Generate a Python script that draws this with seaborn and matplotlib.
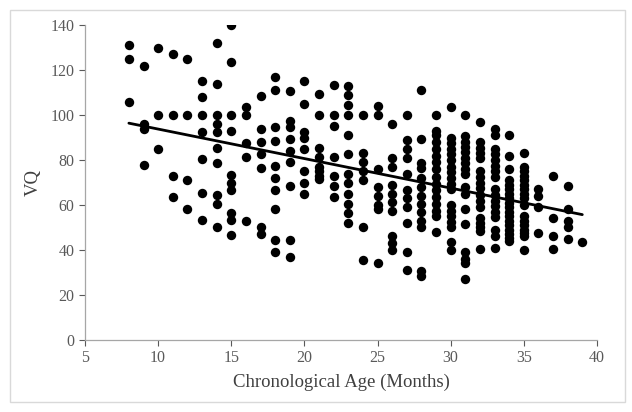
import numpy as np
import pandas as pd
import seaborn as sns
import matplotlib.pyplot as plt
from matplotlib.patches import Rectangle

# data, one list of VQ values per age (months)

vq_08 = [131, 125, 106]
vq_09 = [122, 94, 96, 78]
vq_10 = [130, 100, 85]
vq_11 = [127, 100, 73, 63.5]
vq_12 = [125, 100, 71, 58]
vq_13 = [115, 108, 100, 92.5, 80.5, 65.5, 53.5]
vq_14 = [132, 114, 100, 96, 92.5, 85.5, 78.5, 64.5, 60.5, 50]
vq_15 = [140, 123.5, 100, 93, 73.5, 70, 66.5, 56.5, 53.5, 46.5]
vq_16 = [103.5, 100, 87.5, 81.5, 53]
vq_17 = [108.5, 94, 88, 82.5, 76.5, 50, 47]
vq_18 = [117, 111, 94.5, 88.5, 77.5, 72, 66.5, 58, 44.5, 39]
vq_19 = [110.5, 97.5, 94.5, 89.5, 84, 79, 68.5, 44.5, 37]
vq_20 = [115, 105, 92.5, 90, 85, 75, 70, 65]
vq_21 = [109.5, 100, 85.5, 81.5, 77, 75, 73, 71.5]
vq_22 = [113.5, 100, 95, 81.5, 73, 68.5, 63.5]
vq_23 = [113, 109, 104.5, 100, 91, 82.5, 74, 70, 65, 60.5, 56.5, 52]
vq_24 = [100, 83, 79, 75, 71, 50, 35.5]
vq_25 = [104, 100, 76, 68, 64, 60, 58, 34]
vq_26 = [96, 81, 77, 69, 65, 61.5, 57.5, 46, 43, 40]
vq_27 = [100, 89, 85, 81, 74, 66.5, 63, 59, 52, 39, 31]
vq_28 = [111, 89.5, 78.5, 76.5, 72, 68, 64, 60.5, 57, 53, 50, 30.5, 28.5]
vq_29 = [100, 93, 91, 88, 85, 82, 79, 76, 72.5, 69.5, 66.5, 63.5, 60.5, 57.5, 55, 48]
vq_30 = [103.5, 90, 87.5, 85, 82.5, 80, 77, 74.5, 72, 69.5, 67, 60, 57.5, 55, 52.5, 50, 43.5, 40]
vq_31 = [100, 90.5, 88, 86, 83.5, 81, 78.5, 76, 74, 68, 65, 58, 51.5, 39, 36, 34, 27]
vq_32 = [97, 88, 85.5, 83, 81, 75, 72.5, 70, 67.5, 64.5, 62, 59, 54, 52, 50, 48.5, 40.5]
vq_33 = [94, 91, 85, 82.5, 80, 77.5, 75, 72.5, 67, 64.5, 62, 59.5, 57, 54.5, 49, 46, 41]
vq_34 = [91, 82, 76, 71, 69, 67, 65, 63, 61, 59, 57, 55, 53, 51, 49, 47, 45.5, 44]
vq_35 = [83, 77, 75, 73, 71, 69, 67, 65, 63, 60, 55, 53, 51, 49, 47.5, 46, 40]
vq_36 = [67, 64, 59, 47.5]
vq_37 = [73, 54, 46, 40.5]
vq_38 = [68.5, 58, 53, 50, 45]
vq_39 = [43.5]

columns = [vq_08, vq_09, vq_10, vq_11, vq_12, vq_13, vq_14, vq_15, vq_16,
           vq_17, vq_18, vq_19, vq_20, vq_21, vq_22, vq_23, vq_24, vq_25,
           vq_26, vq_27, vq_28, vq_29, vq_30, vq_31, vq_32, vq_33, vq_34,
           vq_35, vq_36, vq_37, vq_38, vq_39]
ages = list(range(8, 40))

rows = []
for a, col in zip(ages, columns):
    for v in col:
        rows.append({"age": a, "vq": v})
df = pd.DataFrame(rows)

# style

sns.set_style("white")
plt.rcParams["font.family"] = ["Liberation Serif", "DejaVu Serif"]

fig = plt.figure(figsize=(6.32, 4.12), dpi=100)
ax = fig.add_axes([0.1345, 0.175, 0.810, 0.764])

sns.scatterplot(data=df, x="age", y="vq", color="black", s=46,
                edgecolor="black", linewidth=0, ax=ax)
sns.regplot(data=df, x="age", y="vq", scatter=False, ci=None,
            color="black", line_kws={"linewidth": 2}, ax=ax)

ax.set_xlim(5, 40)
ax.set_ylim(0, 140)
ax.set_xticks(range(5, 41, 5))
ax.set_yticks(range(0, 141, 20))

ax.set_xlabel("Chronological Age (Months)", fontsize=13.5, color="#404040", labelpad=5)
ax.set_ylabel("VQ", fontsize=13.5, color="#404040", labelpad=6)
ax.tick_params(axis="both", labelsize=11.5, colors="#595959", length=4,
               direction="out", bottom=True, left=True)

sns.despine(ax=ax)
for side in ["left", "bottom"]:
    ax.spines[side].set_color("#a6a6a6")
    ax.spines[side].set_linewidth(0.9)

# light frame round the whole chart
fig.patches.append(Rectangle((10 / 632, 10 / 412), 615 / 632, 392 / 412,
                             transform=fig.transFigure, fill=False,
                             edgecolor="#d9d9d9", linewidth=1))

fig.savefig("out.png", dpi=100)
plt.close(fig)
